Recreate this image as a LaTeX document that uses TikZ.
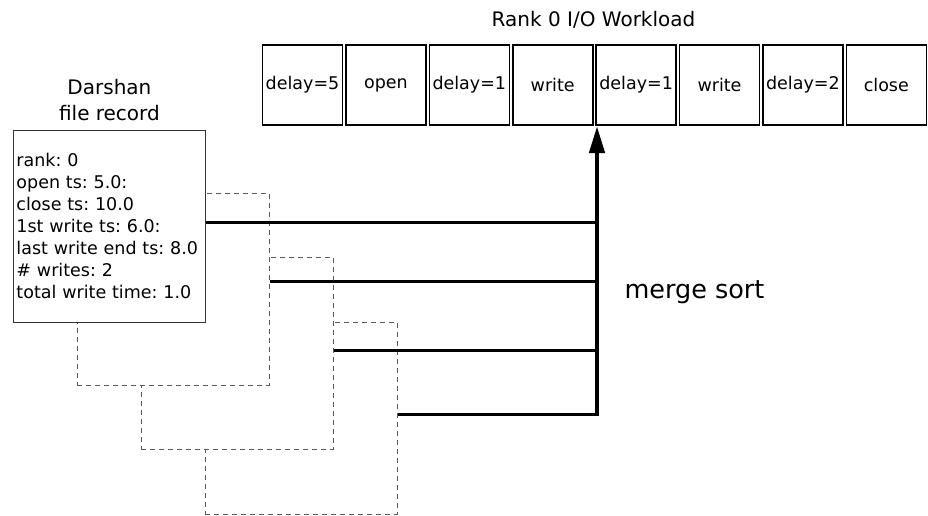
\documentclass[tikz,border=0pt]{standalone}
\usepackage{fontspec}
\setmainfont{DejaVu Sans}
\frenchspacing
\usetikzlibrary{arrows.meta,positioning}

\begin{document}
\begin{tikzpicture}[
  x=1pt, y=-1pt,
  node distance=1.8pt,
  op/.style={draw, line width=1.6pt, inner sep=0pt,
             minimum width=80pt, minimum height=80.5pt,
             font=\fontsize{17.5}{20}\selectfont},
  record/.style={draw=black!80, line width=0.9pt, fill=white,
                 align=left, text width=186pt, inner xsep=3pt,
                 minimum height=192pt,
                 font=\fontsize{17.5}{22}\selectfont},
  ghost/.style={draw=black!65, dashed, dash pattern=on 5pt off 4pt,
                line width=0.9pt, fill=white, inner sep=0pt,
                minimum width=192pt, minimum height=192pt},
  heading/.style={align=center, font=\fontsize{20}{26}\selectfont},
  link/.style={line width=3pt},
  bigarrow/.style={-{Triangle[length=27pt,width=15pt]}, line width=4.5pt}
]
\useasboundingbox (0,0) rectangle (928,515);

% workload
\node[op] (w1) at (302.5,85) {delay=5};
\node[op, right=of w1] (w2) {open};
\node[op, right=of w2] (w3) {delay=1};
\node[op, right=of w3] (w4) {write};
\node[op, right=of w4] (w5) {delay=1};
\node[op, right=of w5] (w6) {write};
\node[op, right=of w6] (w7) {delay=2};
\node[op, right=of w7] (w8) {close};
\node[heading, above=12pt of w4.north east] (wltitle) {Rank 0 I/O Workload};

% file records, back to front
\node[ghost, anchor=north west] (rec4) at (205,322) {};
\node[ghost, anchor=north west] (rec3) at (141,257) {};
\node[ghost, anchor=north west] (rec2) at (77,193) {};
\node[record, anchor=north west] (rec1) at (13,130) {rank: 0\\open ts: 5.0:\\close ts: 10.0\\1st write ts: 6.0:\\last write end ts: 8.0\\\# writes: 2\\total write time: 1.0};
\node[heading, above=6pt of rec1] (rectitle) {Darshan\\file record};

% merge
\coordinate (bend) at (597,414);
\coordinate (out1) at ([yshift=4pt]rec1.east);
\coordinate (out2) at ([yshift=8pt]rec2.east);
\coordinate (out3) at ([yshift=3pt]rec3.east);
\coordinate (out4) at ([yshift=4pt]rec4.east);
\draw[link] (out1) -- (out1 -| bend);
\draw[link] (out2) -- (out2 -| bend);
\draw[link] (out3) -- (out3 -| bend);
\draw[link] (out4) -- (out4 -| bend);
\draw[bigarrow] ([yshift=-1.5pt]bend) -- (bend |- w4.south);
\node[anchor=west, font=\fontsize{25.5}{30}\selectfont] (msort) at (621,292) {merge sort};
\end{tikzpicture}
\end{document}
